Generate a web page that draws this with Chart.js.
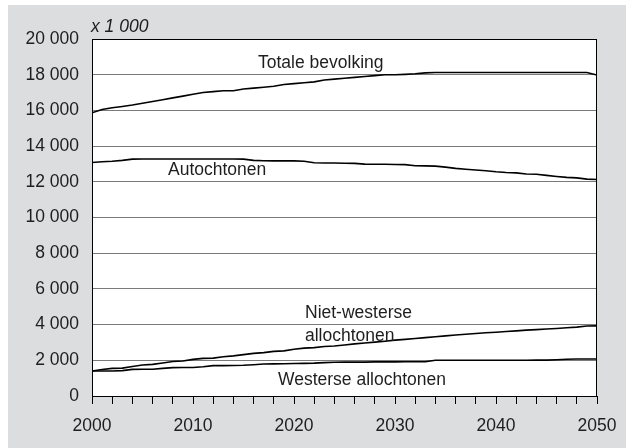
<!DOCTYPE html>
<html>
<head>
<meta charset="utf-8">
<title>Bevolking</title>
<script src="https://cdn.jsdelivr.net/npm/chart.js"></script>
<style>
  html, body { margin: 0; padding: 0; background: #ffffff; }
  #wrap { position: relative; width: 626px; height: 448px; }
</style>
</head>
<body>
<div id="wrap"><canvas id="chart" width="626" height="448"></canvas></div>
<script>
// x 1 000, jaarlijkse waarden 2000-2050
const years = [];
for (let y = 2000; y <= 2050; y++) years.push(y);

const totaal = [
  15.87, 16.05, 16.15, 16.22, 16.30, 16.40, 16.50, 16.60, 16.70, 16.80,
  16.90, 17.00, 17.05, 17.10, 17.10, 17.20, 17.25, 17.30, 17.35, 17.45,
  17.50, 17.55, 17.60, 17.70, 17.75, 17.80, 17.85, 17.90, 17.95, 18.00,
  18.00, 18.02, 18.05, 18.10, 18.12, 18.12, 18.12, 18.12, 18.12, 18.12,
  18.12, 18.12, 18.12, 18.12, 18.12, 18.12, 18.12, 18.12, 18.12, 18.12,
  17.98
];
const autochtonen = [
  13.08, 13.12, 13.15, 13.20, 13.27, 13.28, 13.28, 13.28, 13.28, 13.28,
  13.28, 13.28, 13.28, 13.28, 13.28, 13.27, 13.20, 13.18, 13.17, 13.17,
  13.17, 13.15, 13.07, 13.05, 13.05, 13.04, 13.03, 12.99, 12.98, 12.98,
  12.97, 12.96, 12.90, 12.89, 12.88, 12.82, 12.75, 12.70, 12.66, 12.62,
  12.56, 12.52, 12.50, 12.44, 12.42, 12.36, 12.30, 12.25, 12.22, 12.15,
  12.13
];
const nietWesters = [
  1.40, 1.48, 1.55, 1.56, 1.65, 1.74, 1.77, 1.85, 1.93, 1.96,
  2.05, 2.11, 2.12, 2.20, 2.25, 2.32, 2.39, 2.43, 2.50, 2.53,
  2.62, 2.68, 2.71, 2.77, 2.80, 2.86, 2.92, 2.97, 3.02, 3.07,
  3.13, 3.17, 3.22, 3.27, 3.32, 3.37, 3.42, 3.46, 3.50, 3.54,
  3.57, 3.61, 3.65, 3.69, 3.72, 3.75, 3.78, 3.82, 3.86, 3.92,
  3.93
];
const westers = [
  1.40, 1.40, 1.40, 1.42, 1.49, 1.50, 1.50, 1.55, 1.59, 1.60,
  1.60, 1.64, 1.70, 1.70, 1.71, 1.72, 1.75, 1.79, 1.80, 1.81,
  1.82, 1.83, 1.84, 1.87, 1.89, 1.90, 1.90, 1.90, 1.91, 1.91,
  1.91, 1.92, 1.92, 1.92, 2.00, 2.00, 2.00, 2.00, 2.00, 2.00,
  2.00, 2.00, 2.00, 2.00, 2.01, 2.01, 2.03, 2.06, 2.07, 2.07,
  2.07
];

const labels = [
  { text: "Totale bevolking", x: 258, y: 68 },
  { text: "Autochtonen", x: 168, y: 175 },
  { text: "Niet-westerse", x: 305, y: 318 },
  { text: "allochtonen", x: 305, y: 341 },
  { text: "Westerse allochtonen", x: 278, y: 385 }
];

const FONT = "Liberation Sans, Arial, sans-serif";
const TEXT = "#1e1e1e";

function series(values) {
  return {
    data: years.map((y, i) => ({ x: y, y: values[i] * 1000 })),
    borderColor: "#000000",
    borderWidth: 1.6,
    pointRadius: 0,
    tension: 0,
    fill: false
  };
}

const frame = {
  id: "frame",
  beforeDraw(chart) {
    const { ctx, chartArea: a } = chart;
    ctx.save();
    ctx.fillStyle = "#dcdddf";
    ctx.fillRect(8, 5, chart.width - 8, chart.height - 5);
    ctx.fillStyle = "#ffffff";
    ctx.fillRect(a.left, a.top, a.right - a.left, a.bottom - a.top);
    ctx.restore();
  },
  afterDraw(chart) {
    const { ctx, chartArea: a } = chart;
    ctx.save();
    ctx.strokeStyle = "#000000";
    ctx.lineWidth = 1;
    ctx.strokeRect(a.left + 0.5, a.top + 0.5, a.right - a.left - 1, a.bottom - a.top);
    ctx.fillStyle = TEXT;
    ctx.font = "italic 17.5px " + FONT;
    ctx.textBaseline = "alphabetic";
    ctx.fillText("x 1 000", 91, 32);
    ctx.font = "17.5px " + FONT;
    labels.forEach(l => ctx.fillText(l.text, l.x, l.y));
    ctx.restore();
  }
};

new Chart(document.getElementById("chart"), {
  type: "line",
  data: {
    datasets: [series(totaal), series(autochtonen), series(nietWesters), series(westers)]
  },
  options: {
    responsive: false,
    animation: false,
    layout: { padding: { left: 0, top: 39, right: 29, bottom: 0 } },
    plugins: { legend: { display: false }, tooltip: { enabled: false } },
    scales: {
      x: {
        type: "linear",
        min: 2000,
        max: 2050,
        afterFit(scale) {
          scale.height = 52;
          scale.paddingLeft = 0;
          scale.paddingRight = 0;
        },
        afterBuildTicks(scale) {
          scale.ticks = years.filter(y => y % 2 === 0).map(v => ({ value: v }));
        },
        ticks: {
          autoSkip: false,
          maxRotation: 0,
          padding: 12,
          color: TEXT,
          font: { family: FONT, size: 17.5 },
          callback: v => (v % 10 === 0 ? String(v) : "")
        },
        grid: {
          display: true,
          drawOnChartArea: false,
          drawTicks: true,
          tickLength: 8,
          color: "#000000",
          tickColor: "#000000",
          tickWidth: 1,
          lineWidth: 1
        },
        border: { color: "#000000", width: 1 }
      },
      y: {
        min: 0,
        max: 20000,
        afterFit(scale) { scale.width = 92; },
        ticks: {
          stepSize: 2000,
          padding: 13,
          color: TEXT,
          font: { family: FONT, size: 17.5 },
          callback: v => (v >= 1000 ? Math.floor(v / 1000) + " 000" : String(v))
        },
        grid: {
          drawTicks: false,
          color: ctx => (ctx.tick && (ctx.tick.value === 0 || ctx.tick.value === 20000) ? "#000000" : "#7a7a7a"),
          lineWidth: 1
        },
        border: { color: "#000000", width: 1 }
      }
    }
  },
  plugins: [frame]
});
</script>
</body>
</html>
